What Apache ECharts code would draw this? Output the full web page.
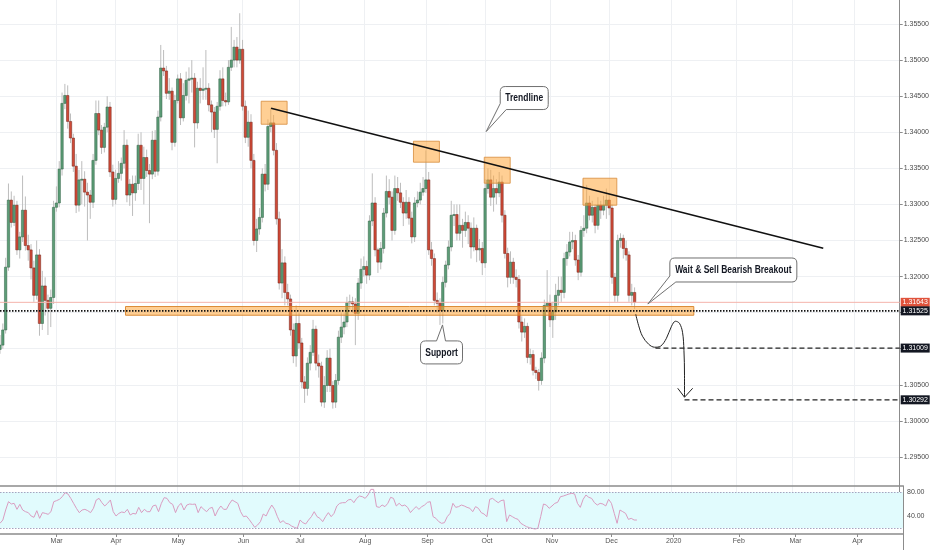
<!DOCTYPE html>
<html><head><meta charset="utf-8">
<script src="https://cdn.jsdelivr.net/npm/echarts@6/dist/echarts.min.js"></script>
<style>html,body{margin:0;padding:0;background:#fff}#c{width:932px;height:550px}</style>
</head><body><div id="c"></div>
<script>
// ---------- data ----------
const startDate = '2019-02-01';
const slotCount = 320; // weekday slots on the time axis (Feb 2019 .. late Apr 2020)
const monthLabels = ['Mar','Apr','May','Jun','Jul','Aug','Sep','Oct','Nov','Dec','2020','Feb','Mar','Apr'];
const priceMin = 1.29, priceMax = 1.35833, priceStep = 0.005;

// daily candles [open, high, low, close]
const candles = [
[1.3099,1.3119,1.3093,1.3105],[1.3105,1.3135,1.3100,1.3126],[1.3126,1.3226,1.3121,1.3213],[1.3213,1.3329,1.3208,1.3306],
[1.3306,1.3318,1.3268,1.3275],[1.3275,1.3312,1.3270,1.3299],[1.3299,1.3305,1.3230,1.3237],[1.3237,1.3262,1.3225,1.3255],
[1.3255,1.3340,1.3248,1.3292],[1.3292,1.3311,1.3236,1.3243],[1.3243,1.3258,1.3222,1.3237],[1.3237,1.3245,1.3196,1.3212],
[1.3212,1.3222,1.3165,1.3174],[1.3174,1.3250,1.3168,1.3230],[1.3230,1.3238,1.3118,1.3135],[1.3135,1.3208,1.3126,1.3187],
[1.3187,1.3199,1.3146,1.3167],[1.3167,1.3175,1.3119,1.3156],[1.3156,1.3182,1.3130,1.3171],[1.3171,1.3305,1.3162,1.3296],
[1.3296,1.3325,1.3290,1.3302],[1.3302,1.3360,1.3296,1.3349],[1.3349,1.3455,1.3340,1.3440],[1.3440,1.3467,1.3432,1.3451],
[1.3451,1.3465,1.3405,1.3415],[1.3415,1.3426,1.3385,1.3392],[1.3392,1.3398,1.3345,1.3353],[1.3353,1.3370,1.3288,1.3299],
[1.3299,1.3348,1.3290,1.3334],[1.3334,1.3360,1.3300,1.3335],[1.3335,1.3346,1.3297,1.3317],[1.3317,1.3330,1.3250,1.3313],
[1.3313,1.3320,1.3280,1.3303],[1.3303,1.3370,1.3295,1.3361],[1.3361,1.3444,1.3355,1.3426],[1.3426,1.3444,1.3396,1.3403],
[1.3403,1.3410,1.3370,1.3379],[1.3379,1.3413,1.3372,1.3407],[1.3407,1.3450,1.3400,1.3435],[1.3435,1.3442,1.3338,1.3345],
[1.3345,1.3355,1.3297,1.3307],[1.3307,1.3348,1.3300,1.3336],[1.3336,1.3360,1.3330,1.3343],[1.3343,1.3365,1.3333,1.3357],
[1.3357,1.3403,1.3350,1.3382],[1.3382,1.3390,1.3303,1.3313],[1.3313,1.3335,1.3298,1.3328],[1.3328,1.3340,1.3284,1.3316],
[1.3316,1.3340,1.3305,1.3329],[1.3329,1.3398,1.3320,1.3382],[1.3382,1.3400,1.3320,1.3336],[1.3336,1.3380,1.3300,1.3365],
[1.3365,1.3376,1.3338,1.3347],[1.3347,1.3356,1.3274,1.3342],[1.3342,1.3402,1.3335,1.3389],[1.3389,1.3403,1.3338,1.3346],
[1.3346,1.3430,1.3340,1.3421],[1.3421,1.3521,1.3415,1.3489],[1.3489,1.3514,1.3478,1.3485],[1.3485,1.3492,1.3446,1.3454],
[1.3454,1.3475,1.3445,1.3457],[1.3457,1.3462,1.3375,1.3386],[1.3386,1.3452,1.3380,1.3444],[1.3444,1.3480,1.3440,1.3474],
[1.3474,1.3482,1.3410,1.3420],[1.3420,1.3468,1.3415,1.3451],[1.3451,1.3484,1.3444,1.3472],[1.3472,1.3490,1.3440,1.3474],
[1.3474,1.3500,1.3455,1.3475],[1.3475,1.3482,1.3379,1.3413],[1.3413,1.3470,1.3405,1.3461],[1.3461,1.3475,1.3440,1.3458],
[1.3458,1.3490,1.3445,1.3460],[1.3460,1.3514,1.3445,1.3461],[1.3461,1.3468,1.3429,1.3438],[1.3438,1.3444,1.3400,1.3428],
[1.3428,1.3435,1.3392,1.3404],[1.3404,1.3442,1.3357,1.3436],[1.3436,1.3486,1.3430,1.3474],[1.3474,1.3490,1.3436,1.3444],
[1.3444,1.3455,1.3436,1.3442],[1.3442,1.3500,1.3438,1.3490],[1.3490,1.3546,1.3485,1.3500],[1.3500,1.3528,1.3490,1.3518],
[1.3518,1.3532,1.3490,1.3500],[1.3500,1.3565,1.3495,1.3515],[1.3515,1.3528,1.3430,1.3436],[1.3436,1.3444,1.3385,1.3393],
[1.3393,1.3430,1.3380,1.3414],[1.3414,1.3425,1.3350,1.3361],[1.3361,1.3370,1.3243,1.3250],[1.3250,1.3280,1.3234,1.3266],
[1.3266,1.3295,1.3258,1.3282],[1.3282,1.3350,1.3275,1.3342],[1.3342,1.3356,1.3318,1.3328],[1.3328,1.3418,1.3320,1.3408],
[1.3408,1.3433,1.3400,1.3413],[1.3413,1.3424,1.3368,1.3375],[1.3375,1.3385,1.3272,1.3280],[1.3280,1.3290,1.3182,1.3191],
[1.3191,1.3238,1.3170,1.3219],[1.3219,1.3228,1.3160,1.3178],[1.3178,1.3190,1.3160,1.3169],[1.3169,1.3175,1.3118,1.3126],
[1.3126,1.3135,1.3080,1.3090],[1.3090,1.3160,1.3075,1.3135],[1.3135,1.3150,1.3100,1.3108],[1.3108,1.3115,1.3045,1.3054],
[1.3054,1.3062,1.3025,1.3045],[1.3045,1.3088,1.3035,1.3080],[1.3080,1.3105,1.3070,1.3095],[1.3095,1.3140,1.3090,1.3127],
[1.3127,1.3132,1.3070,1.3080],[1.3080,1.3092,1.3060,1.3076],[1.3076,1.3082,1.3020,1.3026],[1.3026,1.3062,1.3018,1.3049],
[1.3049,1.3098,1.3040,1.3087],[1.3087,1.3100,1.3040,1.3049],[1.3049,1.3055,1.3017,1.3026],[1.3026,1.3065,1.3018,1.3056],
[1.3056,1.3125,1.3050,1.3116],[1.3116,1.3150,1.3108,1.3130],[1.3130,1.3150,1.3120,1.3137],[1.3137,1.3172,1.3130,1.3164],
[1.3164,1.3175,1.3155,1.3165],[1.3165,1.3172,1.3150,1.3162],[1.3162,1.3170,1.3105,1.3149],[1.3149,1.3198,1.3140,1.3191],
[1.3191,1.3225,1.3183,1.3210],[1.3210,1.3228,1.3200,1.3214],[1.3214,1.3222,1.3190,1.3202],[1.3202,1.3285,1.3195,1.3277],
[1.3277,1.3343,1.3270,1.3302],[1.3302,1.3310,1.3228,1.3237],[1.3237,1.3240,1.3205,1.3220],[1.3220,1.3248,1.3210,1.3239],
[1.3239,1.3295,1.3232,1.3288],[1.3288,1.3340,1.3282,1.3318],[1.3318,1.3335,1.3300,1.3310],[1.3310,1.3318,1.3250,1.3264],
[1.3264,1.3340,1.3258,1.3322],[1.3322,1.3338,1.3305,1.3316],[1.3316,1.3330,1.3295,1.3303],[1.3303,1.3310,1.3270,1.3288],
[1.3288,1.3320,1.3280,1.3303],[1.3303,1.3310,1.3272,1.3281],[1.3281,1.3290,1.3246,1.3255],[1.3255,1.3310,1.3248,1.3302],
[1.3302,1.3318,1.3296,1.3306],[1.3306,1.3330,1.3300,1.3317],[1.3317,1.3338,1.3312,1.3322],[1.3322,1.3375,1.3316,1.3334],
[1.3334,1.3345,1.3230,1.3237],[1.3237,1.3248,1.3215,1.3225],[1.3225,1.3232,1.3160,1.3167],[1.3167,1.3178,1.3150,1.3163],
[1.3163,1.3170,1.3133,1.3153],[1.3153,1.3200,1.3135,1.3192],[1.3192,1.3222,1.3185,1.3216],[1.3216,1.3250,1.3210,1.3241],
[1.3241,1.3305,1.3235,1.3285],[1.3285,1.3300,1.3270,1.3286],[1.3286,1.3300,1.3250,1.3260],[1.3260,1.3300,1.3250,1.3271],
[1.3271,1.3280,1.3240,1.3264],[1.3264,1.3290,1.3255,1.3275],[1.3275,1.3285,1.3245,1.3267],[1.3267,1.3275,1.3225,1.3241],
[1.3241,1.3282,1.3235,1.3267],[1.3267,1.3272,1.3220,1.3237],[1.3237,1.3252,1.3222,1.3239],[1.3239,1.3248,1.3202,1.3219],
[1.3219,1.3335,1.3212,1.3322],[1.3322,1.3350,1.3315,1.3334],[1.3334,1.3348,1.3298,1.3310],[1.3310,1.3340,1.3290,1.3322],
[1.3322,1.3335,1.3300,1.3316],[1.3316,1.3345,1.3310,1.3331],[1.3331,1.3340,1.3275,1.3285],[1.3285,1.3292,1.3225,1.3232],
[1.3232,1.3240,1.3185,1.3199],[1.3199,1.3235,1.3190,1.3220],[1.3220,1.3226,1.3190,1.3199],[1.3199,1.3210,1.3185,1.3196],
[1.3196,1.3202,1.3128,1.3137],[1.3137,1.3145,1.3110,1.3123],[1.3123,1.3142,1.3115,1.3131],[1.3131,1.3136,1.3080,1.3088],
[1.3088,1.3100,1.3078,1.3092],[1.3092,1.3098,1.3063,1.3070],[1.3070,1.3075,1.3058,1.3067],[1.3067,1.3072,1.3042,1.3056],
[1.3056,1.3095,1.3050,1.3087],[1.3087,1.3168,1.3080,1.3160],[1.3160,1.3209,1.3150,1.3163],[1.3163,1.3175,1.3130,1.3140],
[1.3140,1.3165,1.3115,1.3151],[1.3151,1.3190,1.3140,1.3174],[1.3174,1.3200,1.3160,1.3181],[1.3181,1.3200,1.3165,1.3178],
[1.3178,1.3233,1.3170,1.3225],[1.3225,1.3245,1.3215,1.3234],[1.3234,1.3262,1.3228,1.3248],[1.3248,1.3262,1.3238,1.3250],
[1.3250,1.3258,1.3215,1.3223],[1.3223,1.3230,1.3195,1.3206],[1.3206,1.3270,1.3200,1.3264],[1.3264,1.3285,1.3255,1.3267],
[1.3267,1.3327,1.3260,1.3302],[1.3302,1.3312,1.3278,1.3285],[1.3285,1.3305,1.3275,1.3296],[1.3296,1.3300,1.3260,1.3271],
[1.3271,1.3310,1.3265,1.3299],[1.3299,1.3305,1.3280,1.3292],[1.3292,1.3312,1.3285,1.3299],[1.3299,1.3322,1.3280,1.3306],
[1.3306,1.3315,1.3285,1.3295],[1.3295,1.3300,1.3190,1.3199],[1.3199,1.3205,1.3165,1.3174],[1.3174,1.3258,1.3165,1.3250],
[1.3250,1.3260,1.3240,1.3253],[1.3253,1.3258,1.3225,1.3239],[1.3239,1.3250,1.3222,1.3230],[1.3230,1.3235,1.3165,1.3174],
[1.3174,1.3190,1.3160,1.3178],[1.3178,1.3185,1.3155,1.31643]
];

// RSI read per candle
const rsi = [
27.8,33.3,50,63.9,60,61.1,51.1,59.4,50,47.2,
45.6,40,37.8,48.9,36.1,45.6,44.4,42.8,47.2,63.9,
65.6,67.8,72.2,78.9,76.7,69.4,61.1,52.8,45.6,50,
51.1,48.9,45.6,52.8,66.7,69.4,62.2,56.7,61.1,66.7,
47.2,40,44.4,46.7,45.6,51.1,41.7,44.4,43.3,54.4,
45.6,51.1,47.2,47.2,56.7,58.3,47.2,61.1,70.6,69.4,
62.2,59.4,45.6,56.7,61.1,50,58.3,60,59.4,60,
45.6,55.6,51.1,47.2,52.8,54.4,40,50,56.7,51.1,
51.1,60,66.7,63.9,61.1,47.2,38.9,40,34.4,27.8,
21.1,25,30.6,43.3,40,50,58.3,51.1,38.9,28.9,
32.2,27.8,26.7,23.3,21.1,19.4,33.3,28.9,26.7,33.3,
38.9,47.2,38.9,36.1,30.6,38.9,45.6,38.9,44.4,56.7,
61.1,62.2,62.2,66.7,67.8,62.2,69.4,73.3,72.2,69.4,
75,84.4,84.4,55.6,54.4,58.3,55.6,61.1,71.1,69.4,
56.7,61.1,56.7,58.3,54.4,45.6,51.1,55.6,51.1,55.6,
58.3,62.8,63.9,38.9,36.1,30.6,27.8,28.9,38.9,44.4,
61.1,54.4,55.6,58.3,56.7,
54.4,52.8,47.2,55.6,52.8,45.6,43.3,38.9,67.8,69.4,
65.6,62.2,65.6,66.7,30.6,41.7,38.9,36.1,34.4,27.8,
25,22.2,20.6,19.4,18.3,19.4,38.9,60,58.3,52.8,
56.7,61.1,62.8,72.2,73.3,75,76.7,77.8,76.7,61.1,
54.4,67.8,75,71.1,69.4,62.2,58.3,61.1,60,56.7,
67.8,61.1,44.4,27.8,50,47.2,44.4,34.4,36.1,33.3,
33.3
];
const rsiBand = [20, 80];
const rsiLabels = [40, 80];

// drawings (x = weekday slot index, y = price)
const trendLine = [[96.1, 1.34333], [291.9, 1.32393]];
const resistanceBoxes = [
  [92.6, 101.8, 1.34111, 1.34430],
  [146.6, 155.8, 1.33585, 1.33876],
  [171.7, 180.9, 1.33294, 1.33654],
  [206.7, 218.7, 1.32989, 1.33363]
];
const supportZone = [[44.5, 246, 1.31464, 1.31585]];
const keyLevel = 1.31525;
const lastPrice = 1.31643;
const targets = [[232.4, 1.31009], [242.7, 1.30292]];
const projection = [[225.4,1.31478],[226.4,1.31326],[227.8,1.31173],[230.0,1.31062],[232.1,1.31021],[234.2,1.31035],
  [236.3,1.31145],[238.1,1.31312],[239.5,1.31381],[240.9,1.31353],[242.0,1.31228],[242.5,1.30979],[242.7,1.30633],[242.7,1.30328]];
const arrowHead = [[240.3,1.30452],[242.7,1.30328],[245.6,1.30452]];
const calloutTexts = ['Trendline', 'Support', 'Wait & Sell Bearish Breakout'];
const calloutTips = [[172.4, 1.3401], [156.9, 1.3133], [229.7, 1.3162]];

// ---------- layout / style ----------
const calloutLayout = [
  {dx:[14,62], dy:[-45,-22], tail:'corner'},
  {dx:[-22,20], dy:[16,39], tail:'top', base:[16,25]},
  {dx:[22,149], dy:[-46,-22], tail:'corner'}
];
const FONT = '"Liberation Sans", Arial, sans-serif';

// weekday categories
const dates = [];
{
  const d = new Date(startDate + 'T00:00:00Z');
  while (dates.length < slotCount) {
    const wd = d.getUTCDay();
    if (wd !== 0 && wd !== 6) dates.push(d.toISOString().slice(0, 10));
    d.setUTCDate(d.getUTCDate() + 1);
  }
}
const labelMap = {};
{
  let k = 0;
  for (let i = 1; i < dates.length; i++) {
    if (dates[i].slice(0, 7) !== dates[i - 1].slice(0, 7)) labelMap[dates[i]] = monthLabels[k++];
  }
}
const isMonthStart = (idx, val) => labelMap[val] !== undefined;

const chart = echarts.init(document.getElementById('c'), null, {renderer: 'canvas'});

function hLine(x0, x1, p) { return [[x0, p], [x1, p]]; }

const tagData = [
  {p: lastPrice, c: '#e0533c'},
  {p: keyLevel, c: '#131722'},
  {p: targets[0][1], c: '#131722'},
  {p: targets[1][1], c: '#131722'}
];

const option = {
  animation: false,
  backgroundColor: '#ffffff',
  textStyle: {fontFamily: FONT},
  grid: [
    {left: 0, right: 29, top: 0, height: 493.04},
    {left: 0, right: 29, top: 486, height: 48}
  ],
  xAxis: [
    {type: 'category', gridIndex: 0, data: dates, boundaryGap: false,
     axisLine: {show: false}, axisTick: {show: false}, axisLabel: {show: false},
     splitLine: {show: true, interval: isMonthStart, lineStyle: {color: '#eef0f3', width: 1}}},
    {type: 'value', gridIndex: 0, min: 0, max: slotCount - 1, show: false},
    {type: 'category', gridIndex: 1, data: dates, boundaryGap: false, position: 'bottom',
     axisLine: {show: true, onZero: false, lineStyle: {color: '#8c8c8c', width: 1.5}},
     axisTick: {show: true, interval: isMonthStart, length: 3, lineStyle: {color: '#8c8c8c'}},
     axisLabel: {show: true, interval: isMonthStart, formatter: v => labelMap[v] || '', fontSize: 7, color: '#555', margin: 4, fontFamily: FONT},
     splitLine: {show: false}},
    {type: 'value', gridIndex: 1, min: 0, max: slotCount - 1, position: 'top',
     axisLine: {show: true, onZero: false, lineStyle: {color: '#8c8c8c', width: 1.5}},
     axisTick: {show: false}, axisLabel: {show: false}, splitLine: {show: false}}
  ],
  yAxis: [
    {type: 'value', gridIndex: 0, position: 'right', min: priceMin, max: priceMax, interval: priceStep,
     axisLine: {show: true, onZero: false, lineStyle: {color: '#8c8c8c'}},
     axisTick: {show: true, length: 3, lineStyle: {color: '#8c8c8c'}},
     axisLabel: {show: true, showMinLabel: false, showMaxLabel: false, formatter: v => v.toFixed(5), fontSize: 7, color: '#4a4a4a', margin: 4, fontFamily: FONT},
     splitLine: {show: true, showMaxLine: false, lineStyle: {color: '#eef0f3', width: 1}}},
    {type: 'value', gridIndex: 1, position: 'right', min: 10, max: 90, interval: 10,
     axisLine: {show: true, onZero: false, lineStyle: {color: '#8c8c8c'}},
     axisTick: {show: false},
     axisLabel: {show: true, formatter: v => rsiLabels.indexOf(Math.round(v)) >= 0 ? v.toFixed(2) : '', fontSize: 7, color: '#4a4a4a', margin: 4, fontFamily: FONT},
     splitLine: {show: false}}
  ],
  graphic: [
    {type: 'line', shape: {x1: 903.5, y1: 534, x2: 903.5, y2: 550}, style: {stroke: '#8c8c8c', lineWidth: 1}, silent: true}
  ],
  series: [
    // candles
    {type: 'custom', xAxisIndex: 1, yAxisIndex: 0, z: 2,
     data: candles.map((c, i) => [i, c[0], c[3], c[2], c[1]]),
     encode: {x: 0, y: [1, 2, 3, 4]},
     renderItem: (params, api) => {
       const i = api.value(0);
       const po = api.coord([i, api.value(1)]), pc = api.coord([i, api.value(2)]);
       const pl = api.coord([i, api.value(3)]), ph = api.coord([i, api.value(4)]);
       const x = po[0];
       const up = api.value(2) >= api.value(1);
       const top = Math.min(po[1], pc[1]);
       const h = Math.max(Math.abs(po[1] - pc[1]), 1);
       return {type: 'group', children: [
         {type: 'line', shape: {x1: x, y1: ph[1], x2: x, y2: pl[1]}, style: {stroke: '#bdbdbd', lineWidth: 1}},
         {type: 'rect', shape: {x: x - 1.2, y: top, width: 2.4, height: h},
          style: {fill: up ? '#5c9d77' : '#d04a37', stroke: up ? '#2f5f43' : '#6e2218', lineWidth: 0.5}}
       ]};
     }},
    // support zone
    {type: 'custom', xAxisIndex: 1, yAxisIndex: 0, z: 3, data: supportZone, encode: {x: [0, 1], y: [2, 3]},
     renderItem: (params, api) => {
       const a = api.coord([api.value(0), api.value(3)]), b = api.coord([api.value(1), api.value(2)]);
       return {type: 'rect', shape: {x: a[0], y: a[1], width: b[0] - a[0], height: b[1] - a[1]},
         style: {fill: 'rgba(255,168,60,0.55)', stroke: 'rgba(215,130,40,0.9)', lineWidth: 1}};
     }},
    // resistance boxes
    {type: 'custom', xAxisIndex: 1, yAxisIndex: 0, z: 3, data: resistanceBoxes, encode: {x: [0, 1], y: [2, 3]},
     renderItem: (params, api) => {
       const a = api.coord([api.value(0), api.value(3)]), b = api.coord([api.value(1), api.value(2)]);
       return {type: 'rect', shape: {x: a[0], y: a[1], width: b[0] - a[0], height: b[1] - a[1]},
         style: {fill: 'rgba(255,168,60,0.55)', stroke: 'rgba(215,140,60,0.8)', lineWidth: 1}};
     }},
    // last price line
    {type: 'line', xAxisIndex: 1, yAxisIndex: 0, z: 4, symbol: 'none', data: hLine(0, slotCount - 1, lastPrice),
     lineStyle: {color: '#f5b3ab', width: 1}},
    // key level dotted
    {type: 'line', xAxisIndex: 1, yAxisIndex: 0, z: 4, symbol: 'none', data: hLine(0, slotCount - 1, keyLevel),
     lineStyle: {color: '#111', width: 1.6, type: [1.5, 1.5]}},
    // targets dashed
    ...targets.map(t => ({type: 'line', xAxisIndex: 1, yAxisIndex: 0, z: 4, symbol: 'none',
      data: hLine(t[0], slotCount - 1, t[1]), lineStyle: {color: '#222', width: 1.3, type: [5, 3]}})),
    // trendline
    {type: 'line', xAxisIndex: 1, yAxisIndex: 0, z: 5, symbol: 'none', data: trendLine,
     lineStyle: {color: '#111', width: 1.6}},
    // projection curve
    {type: 'line', xAxisIndex: 1, yAxisIndex: 0, z: 5, symbol: 'none', smooth: 0.35, data: projection,
     lineStyle: {color: '#222', width: 1}},
    {type: 'line', xAxisIndex: 1, yAxisIndex: 0, z: 5, symbol: 'none', data: arrowHead,
     lineStyle: {color: '#222', width: 1}},
    // price tags on the axis
    {type: 'custom', xAxisIndex: 1, yAxisIndex: 0, z: 6, data: tagData.map(t => [t.p]), encode: {y: 0},
     renderItem: (params, api) => {
       const p = api.value(0);
       const y = api.coord([0, p])[1];
       const cs = params.coordSys;
       const x = cs.x + cs.width + 1;
       return {type: 'group', children: [
         {type: 'rect', shape: {x: x, y: y - 4.5, width: 29, height: 9}, style: {fill: tagData[params.dataIndex].c}},
         {type: 'text', style: {text: p.toFixed(5), x: x + 14.5, y: y, align: 'center', verticalAlign: 'middle',
           fill: '#fff', font: '7px ' + FONT}}
       ]};
     }},
    // callouts
    {type: 'custom', xAxisIndex: 1, yAxisIndex: 0, z: 7, data: calloutTips, encode: {x: 0, y: 1},
     renderItem: (params, api) => {
       const tip = api.coord([api.value(0), api.value(1)]);
       const L = calloutLayout[params.dataIndex];
       const x0 = tip[0] + L.dx[0], x1 = tip[0] + L.dx[1], y0 = tip[1] + L.dy[0], y1 = tip[1] + L.dy[1];
       const r = 5, tx = tip[0], ty = tip[1];
       let d;
       if (L.tail === 'corner') {
         d = `M${x0 + r} ${y0} L${x1 - r} ${y0} Q${x1} ${y0} ${x1} ${y0 + r} L${x1} ${y1 - r} Q${x1} ${y1} ${x1 - r} ${y1}` +
             ` L${x0 + 6} ${y1} L${tx} ${ty} L${x0} ${y1 - 6} L${x0} ${y0 + r} Q${x0} ${y0} ${x0 + r} ${y0} Z`;
       } else {
         const b0 = x0 + L.base[0], b1 = x0 + L.base[1];
         d = `M${x0 + r} ${y0} L${b0} ${y0} L${tx} ${ty} L${b1} ${y0} L${x1 - r} ${y0} Q${x1} ${y0} ${x1} ${y0 + r}` +
             ` L${x1} ${y1 - r} Q${x1} ${y1} ${x1 - r} ${y1} L${x0 + r} ${y1} Q${x0} ${y1} ${x0} ${y1 - r} L${x0} ${y0 + r} Q${x0} ${y0} ${x0 + r} ${y0} Z`;
       }
       return {type: 'group', children: [
         {type: 'path', shape: {pathData: d}, style: {fill: '#ffffff', stroke: '#707070', lineWidth: 1}},
         {type: 'text', x: (x0 + x1) / 2, y: (y0 + y1) / 2 + 0.5, scaleX: 0.85,
          style: {text: calloutTexts[params.dataIndex], x: 0, y: 0, align: 'center', verticalAlign: 'middle',
            fill: '#131722', font: 'bold 10px ' + FONT}}
       ]};
     }},
    // RSI
    {type: 'line', xAxisIndex: 3, yAxisIndex: 1, z: 4, symbol: 'none',
     data: rsi.map((v, i) => [i, v]),
     lineStyle: {color: '#d99cc0', width: 1},
     markArea: {silent: true, itemStyle: {color: '#e1fbfd'}, data: [[{yAxis: rsiBand[0]}, {yAxis: rsiBand[1]}]]},
     markLine: {silent: true, symbol: 'none', label: {show: false},
       lineStyle: {color: '#a7a3bf', type: [1.5, 1.5], width: 1},
       data: [{yAxis: rsiBand[0]}, {yAxis: rsiBand[1]}]}}
  ]
};
chart.setOption(option);
</script>
</body></html>
